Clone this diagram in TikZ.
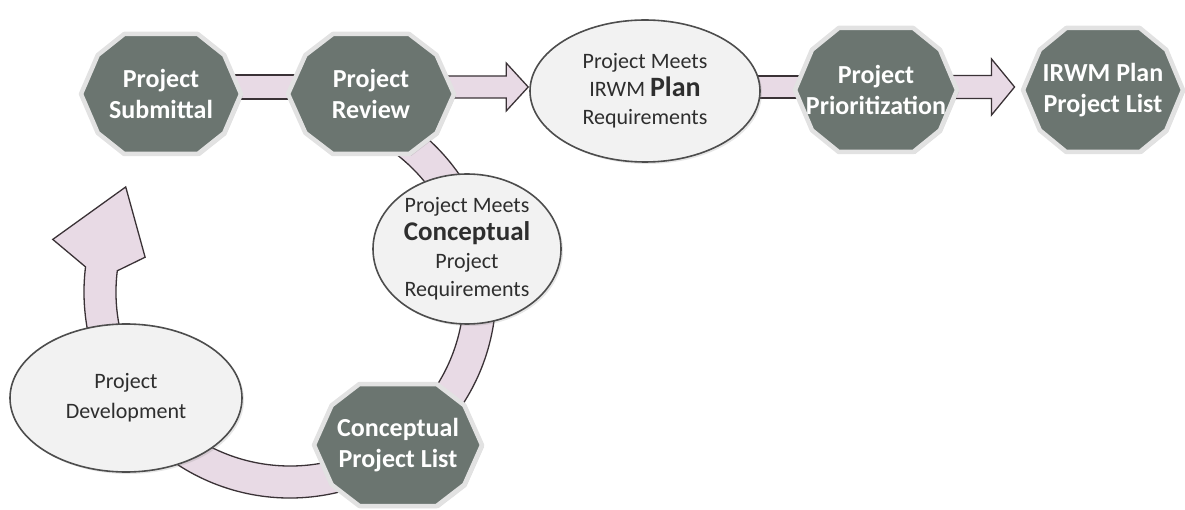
\documentclass[tikz,border=0pt]{standalone}
\usepackage{fontspec}
\setmainfont{Carlito}
\usetikzlibrary{calc,backgrounds,shadows,shapes.geometric}

\definecolor{octfill}{HTML}{6B7570}
\definecolor{octrim}{HTML}{E2E2E2}
\definecolor{bandfill}{HTML}{E8DAE5}
\definecolor{bandline}{HTML}{3A3236}
\definecolor{ellfill}{HTML}{F2F2F2}
\definecolor{ellline}{HTML}{4D4D4D}
\definecolor{txtdark}{HTML}{2E2E2E}

\tikzset{
  decapoly/.style={fill=octfill, draw=octrim, line width=4.5pt, line join=round,
     drop shadow={opacity=0.25, shadow xshift=2pt, shadow yshift=-2pt}},
  decanode/.style={shape=ellipse, inner sep=0pt, draw=none, align=center, text=white,
     font=\bfseries\fontsize{26}{31}\selectfont},
  ellnode/.style={shape=ellipse, inner sep=0pt, fill=ellfill, draw=ellline, line width=1.6pt,
     align=center, text=txtdark, font=\fontsize{22}{28}\selectfont,
     drop shadow={opacity=0.2, shadow xshift=2pt, shadow yshift=-2pt}},
  band/.style={fill=bandfill, draw=bandline, line width=1.3pt, line join=miter},
}

% name, x, y, rx, ry, text
\newcommand\mydeca[6]{%
  \path[decapoly, shift={(#2,#3)}]
    ({#4},0) -- ({0.79*#4},{0.65*#5}) -- ({0.46*#4},{#5}) -- ({-0.46*#4},{#5})
    -- ({-0.79*#4},{0.65*#5}) -- ({-#4},0) -- ({-0.79*#4},{-0.65*#5})
    -- ({-0.46*#4},{-#5}) -- ({0.46*#4},{-#5}) -- ({0.79*#4},{-0.65*#5}) -- cycle;
  \node[decanode, minimum width=2*#4pt, minimum height=2*#5pt] (#1) at (#2,#3) {#6};
}

\begin{document}
\begin{tikzpicture}[x=1pt,y=-1pt]
\useasboundingbox (0,0) rectangle (1185,510);

% nodes
\mydeca{sub}{161}{94}{80}{60}{Project\\Submittal}
\mydeca{rev}{371}{94}{83}{60}{Project\\Review}
\node[ellnode, minimum width=230pt, minimum height=142pt] (plan) at (645,91)
  {Project Meets\\IRWM {\bfseries\fontsize{28}{28}\selectfont Plan}\\Requirements};
\mydeca{prio}{876}{90}{81}{62}{Project\\Prioritization}
\mydeca{irwm}{1103}{90}{80}{62}{IRWM Plan\\Project List}
\node[ellnode, minimum width=188pt, minimum height=150pt] (concreq) at (467,249)
  {Project Meets\\{\bfseries\fontsize{27}{27}\selectfont Conceptual}\\Project\\Requirements};
\node[ellnode, minimum width=232pt, minimum height=148pt, font=\fontsize{22}{30}\selectfont] (dev) at (126,398)
  {Project\\Development};
\mydeca{cpl}{398}{445}{84}{61}{Conceptual\\Project List}

\begin{pgfonlayer}{background}
  \coordinate (by) at (0,87);
  % Submittal -> Review
  \draw[band] ($(sub.center|-by)+(0,-12)$) rectangle ($(rev.center|-by)+(0,12)$);
  % Review -> Plan
  \coordinate (t1) at ($(plan.west|-by)+(-1,0)$);
  \draw[band] ($(rev.center|-by)+(0,-11)$) -- ($(t1)+(-22,-11)$) -- ($(t1)+(-22,-24)$)
     -- (t1) -- ($(t1)+(-22,24)$) -- ($(t1)+(-22,11)$) -- ($(rev.center|-by)+(0,11)$) -- cycle;
  % Plan -> Prioritization
  \draw[band] ($(plan.center|-by)+(0,-11)$) rectangle ($(prio.center|-by)+(0,11)$);
  % Prioritization -> IRWM list
  \coordinate (t2) at ($(irwm.west|-by)+(-3,0)$);
  \draw[band] ($(prio.center|-by)+(0,-11.5)$) -- ($(t2)+(-23,-11.5)$) -- ($(t2)+(-23,-28)$)
     -- (t2) -- ($(t2)+(-23,28)$) -- ($(t2)+(-23,11.5)$) -- ($(prio.center|-by)+(0,11.5)$) -- cycle;
  % loop: Review -> Conceptual requirements -> Conceptual list -> Development -> Submittal
  \coordinate (loopc) at (290,292);
  \draw[band] ($(loopc)+(-55:206)$) arc[start angle=-55, end angle=187, radius=206]
     -- ($(loopc)+(192.5:243)$) -- ($(loopc)+(212.6:195)$) -- ($(loopc)+(193.5:149)$)
     -- ($(loopc)+(187:174)$) arc[start angle=187, end angle=-55, radius=174] -- cycle;
\end{pgfonlayer}
\end{tikzpicture}
\end{document}
